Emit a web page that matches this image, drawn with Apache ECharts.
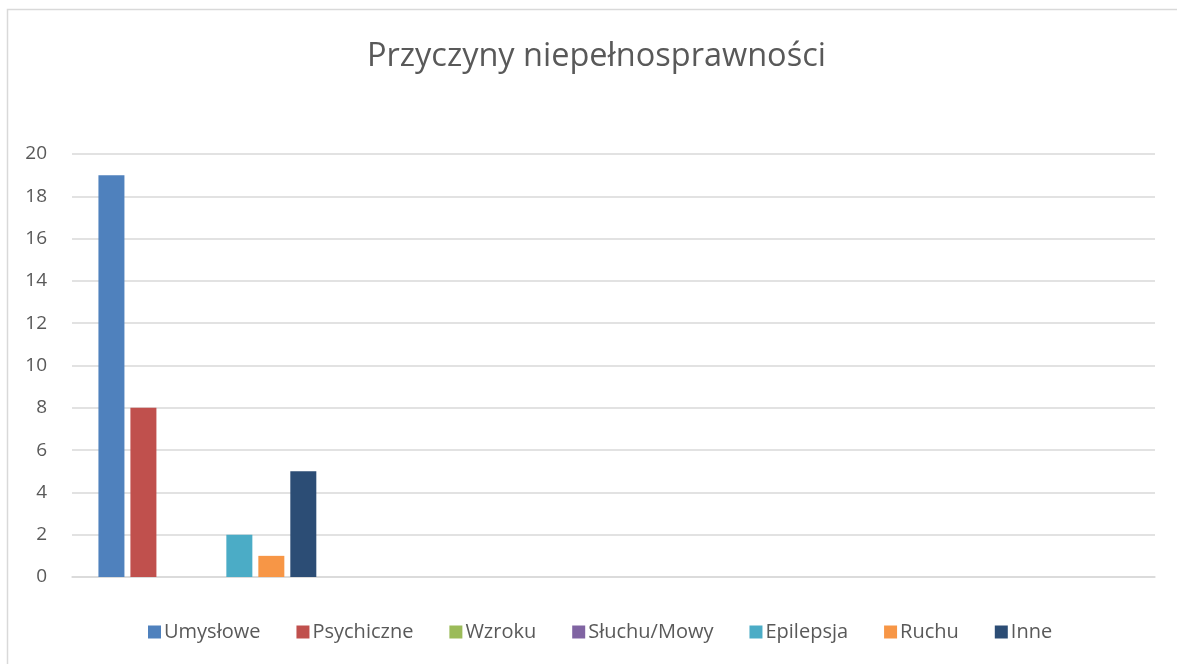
<!DOCTYPE html>
<html>
<head>
<meta charset="utf-8">
<script src="https://cdn.jsdelivr.net/npm/echarts@6/dist/echarts.min.js"></script>
<style>html,body{margin:0;padding:0;background:#fff;}#c{width:1177px;height:664px;}</style>
</head>
<body>
<div id="c"></div>
<script>
const categories = ['', '', '', ''];
const seriesNames = ['Umysłowe', 'Psychiczne', 'Wzroku', 'Słuchu/Mowy', 'Epilepsja', 'Ruchu', 'Inne'];
const umyslowe = [19, null, null, null];
const psychiczne = [8, null, null, null];
const wzroku = [0, null, null, null];
const sluchuMowy = [0, null, null, null];
const epilepsja = [2, null, null, null];
const ruchu = [1, null, null, null];
const inne = [5, null, null, null];
const yTicks = [0, 2, 4, 6, 8, 10, 12, 14, 16, 18, 20];

const colors = ['#4f81bd', '#c0504d', '#9bbb59', '#8064a2', '#4bacc6', '#f79646', '#2c4d75'];
const values = [umyslowe, psychiczne, wzroku, sluchuMowy, epilepsja, ruchu, inne];
const font = "'Open Sans', 'Noto Sans', sans-serif";

const chart = echarts.init(document.getElementById('c'), null, {renderer: 'canvas'});
chart.setOption({
  animation: false,
  backgroundColor: '#fff',
  title: {
    text: 'Przyczyny niepełnosprawności',
    left: 362,
    top: 35,
    textStyle: {fontFamily: font, fontSize: 32.5, fontWeight: 'normal', color: '#595959'}
  },
  graphic: [{
    type: 'rect',
    shape: {x: 7.5, y: 9.5, width: 1200, height: 700},
    style: {fill: 'none', stroke: '#d9d9d9', lineWidth: 1.5},
    silent: true
  }],
  legend: {
    bottom: 17,
    left: 143,
    itemWidth: 13,
    itemHeight: 13,
    itemGap: 36,
    icon: 'rect',
    textStyle: {fontFamily: font, fontSize: 20, color: '#595959', padding: [0, 0, 0, -2]},
    data: seriesNames
  },
  grid: {left: 72, right: 22, top: 154, bottom: 87, containLabel: false},
  xAxis: {
    type: 'category',
    data: categories,
    axisLine: {show: true, lineStyle: {color: '#d9d9d9', width: 1.5}},
    axisTick: {show: false},
    axisLabel: {show: false}
  },
  yAxis: {
    type: 'value',
    min: 0, max: 20, interval: 2,
    axisLine: {show: false},
    axisTick: {show: false},
    axisLabel: {fontFamily: font, fontSize: 19, color: '#595959', margin: 25,
      formatter: v => yTicks.includes(v) ? String(v) : ''},
    splitLine: {lineStyle: {color: '#d9d9d9', width: 1.5}}
  },
  series: seriesNames.map((n, i) => ({
    name: n,
    type: 'bar',
    data: values[i],
    barWidth: 26,
    barGap: '23%',
    itemStyle: {color: colors[i]}
  }))
});
</script>
</body>
</html>
